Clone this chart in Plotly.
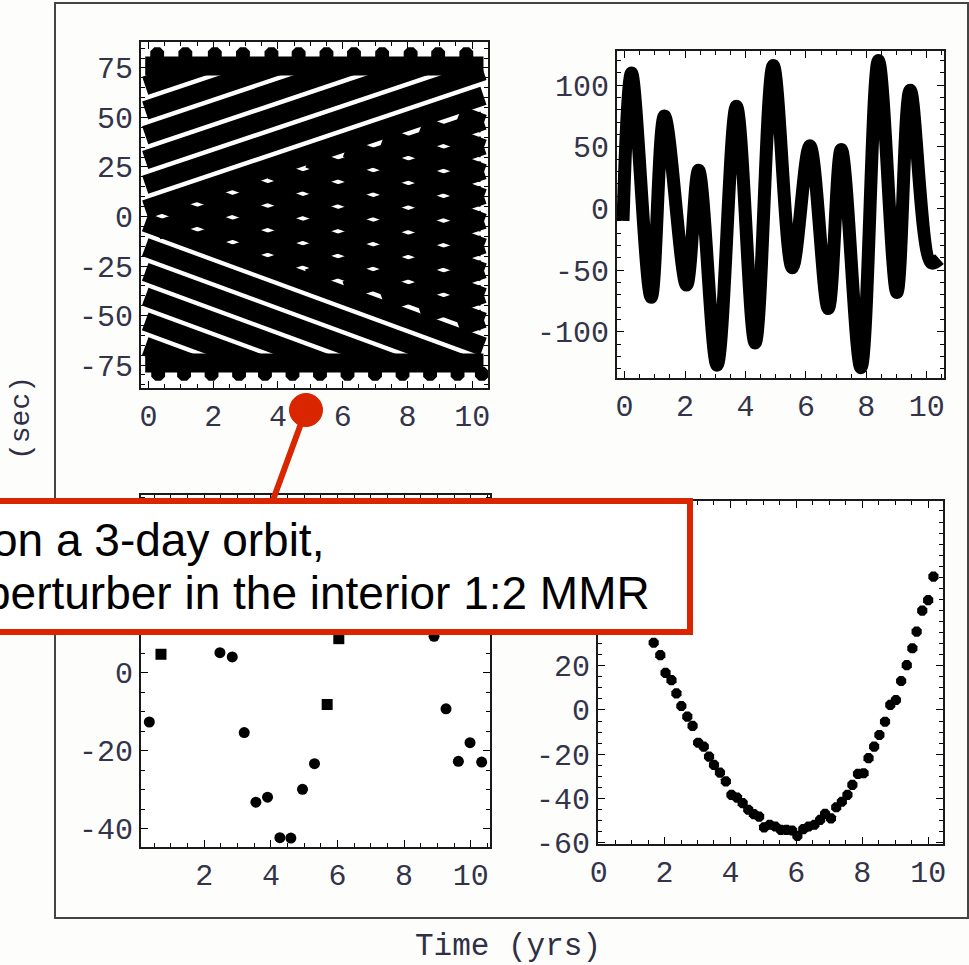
import plotly.graph_objects as go

W, H = 969, 965

# ---------------- data ----------------
# top-left panel: dense transit-timing points, drawn as stripes of overlapping points
tl_stripe_t0 = [-0.1, -0.1, -0.1, -0.1, -0.1, -0.1, 0.27, 1.44, 2.60, 3.76, 4.93, 6.09, 7.26, 8.42, 9.59,
                -0.1, -0.1, -0.1, -0.1, -0.1, -0.1, 0.32, 1.48, 2.64, 3.79, 4.95, 6.11, 7.27, 8.43, 9.59,
                -0.1, -0.1]
tl_stripe_v0 = [66, 53.5, 41, 28.5, 16, 3.5, -7.0, -13.1, -19.2, -25.2, -31.3, -37.4, -43.5, -49.6, -55.7,
                -65.5, -53, -40.5, -28, -15.5, -3, 7.0, 12.5, 18.1, 23.6, 29.2, 34.7, 40.3, 45.8, 51.4,
                76, -74]
tl_stripe_t1 = [1.72, 3.99, 6.26, 8.54, 10.35, 10.35, 10.35, 10.35, 10.35, 10.35, 10.35, 10.35, 10.35, 10.35, 10.35,
                1.32, 3.40, 5.48, 7.57, 9.65, 10.35, 10.35, 10.35, 10.35, 10.35, 10.35, 10.35, 10.35, 10.35, 10.35,
                10.35, 10.35]
tl_stripe_v1 = [76, 76, 76, 76, 73.5, 61.0, 48.5, 36.0, 23.5, 11.0, -1.5, -14.0, -26.5, -39.0, -51.5,
                -74, -74, -74, -74, -74, -65.7, -53.2, -40.7, -28.2, -15.7, -3.2, 9.3, 21.8, 34.3, 46.8,
                76, -74]
tl_top_t = [0.27, 1.14, 2.05, 2.92, 3.80, 4.64, 5.50, 6.35, 7.22, 8.10, 8.95, 9.82]
tl_top_v = [82] * len(tl_top_t)
tl_bot_t = [0.30, 1.10, 1.95, 2.80, 3.60, 4.45, 5.30, 6.15, 7.00, 7.85, 8.70, 9.55, 10.30]
tl_bot_v = [-79.5] * len(tl_bot_t)

# top-right panel
tr_t = [-0.05, 0.23, 0.88, 1.32, 2.05, 2.45, 3.06, 3.70, 4.32, 4.92, 5.55, 6.13, 6.74, 7.17, 7.82,
        8.40, 9.01, 9.45, 10.15, 10.42]
tr_v = [-10, 110, -72, 75, -62, 31, -127, 83, -109, 116, -48, 51, -81, 48, -129,
        120, -68, 96, -44, -41]

# bottom-left panel
bl_t = [0.35, 0.70, 2.47, 2.84, 3.20, 3.55, 3.90, 4.27, 4.60, 4.95, 5.31, 5.69, 6.04, 8.90, 9.26, 9.63, 9.98, 10.33]
bl_v = [-12.6, 4.8, 5.2, 4.1, -15.3, -33.2, -31.9, -42.3, -42.4, -29.9, -23.3, -8.1, 8.8, 9.4, -9.2, -22.7, -17.9, -22.9]
bl_sym = ["circle", "square", "circle", "circle", "circle", "circle", "circle", "circle", "circle",
          "circle", "circle", "square", "square", "circle", "circle", "circle", "circle", "circle"]

# bottom-right panel
br_t = [1.67, 1.87, 2.03, 2.21, 2.36, 2.51, 2.69, 2.85, 3.02, 3.19, 3.35, 3.50, 3.68, 3.86, 4.03, 4.20,
        4.37, 4.54, 4.71, 4.87, 5.02, 5.19, 5.36, 5.53, 5.70, 5.87, 6.03, 6.21, 6.37, 6.55, 6.72, 6.87,
        7.05, 7.21, 7.38, 7.55, 7.70, 7.87, 8.04, 8.19, 8.36, 8.52, 8.69, 8.85, 9.02, 9.18, 9.35, 9.52,
        9.65, 9.82, 10.00, 10.16]
br_v = [30.4, 24.8, 16.8, 13.5, 7.5, 1.8, -3.0, -7.2, -14.8, -16.6, -21.1, -24.8, -28.3, -32.3, -38.4, -39.6,
        -42.1, -45.1, -47.1, -48.2, -53.1, -51.9, -52.7, -54.2, -54.2, -54.5, -56.9, -53.9, -52.7, -51.9, -49.7, -47.0,
        -49.0, -44.0, -41.5, -38.4, -33.9, -28.9, -28.6, -21.8, -16.6, -11.3, -5.3, 2.3, 4.5, 13.1, 20.3, 27.9,
        35.4, 44.9, 49.7, 60.3]

# tick values that are visible (others sit under the callout box)
tl_yticks = [-75, -50, -25, 0, 25, 50, 75]
tl_ylabels = ["-75", "-50", "-25", "0", "25", "50", "75"]
tr_yticks = [-100, -50, 0, 50, 100]
tr_ylabels = ["-100", "-50", "0", "50", "100"]
bl_yticks = [-40, -20, 0]
bl_ylabels = ["-40", "-20", "0"]
br_yticks = [-60, -40, -20, 0, 20]
br_ylabels = ["-60", "-40", "-20", "0", "20"]
x_ticks = [0, 2, 4, 6, 8, 10]
x_labels = ["0", "2", "4", "6", "8", "10"]

x_label = "Time (yrs)"
y_label = "(sec)"
note_line1 = "on a 3-day orbit,"
note_line2 = "perturber in the interior 1:2 MMR"

# ---------------- helpers ----------------
def px(x):
    return x / W

def py(y):
    return 1 - y / H

RED = "#d92500"
TICKFONT = dict(family="Liberation Mono", size=30, color="#33334a")

fig = go.Figure()

# top-left stripes
sx, sy = [], []
for a, b, c, d in zip(tl_stripe_t0, tl_stripe_v0, tl_stripe_t1, tl_stripe_v1):
    sx += [a, c, None]
    sy += [b, d, None]
fig.add_trace(go.Scatter(x=sx, y=sy, mode="lines", line=dict(color="black", width=19),
                         xaxis="x", yaxis="y", showlegend=False, hoverinfo="skip"))
fig.add_trace(go.Scatter(x=tl_top_t + tl_bot_t, y=tl_top_v + tl_bot_v, mode="markers",
                         marker=dict(color="black", size=15, symbol="octagon"),
                         xaxis="x", yaxis="y", showlegend=False))

# top-right
fig.add_trace(go.Scatter(x=tr_t, y=tr_v, mode="lines",
                         line=dict(color="black", width=13, shape="spline", smoothing=1.0),
                         xaxis="x2", yaxis="y2", showlegend=False))

# bottom-left
fig.add_trace(go.Scatter(x=bl_t, y=bl_v, mode="markers",
                         marker=dict(color="black", size=11, symbol=bl_sym),
                         xaxis="x3", yaxis="y3", showlegend=False))

# bottom-right
fig.add_trace(go.Scatter(x=br_t, y=br_v, mode="markers",
                         marker=dict(color="black", size=11, symbol="octagon"),
                         xaxis="x4", yaxis="y4", showlegend=False))


def axis(domain_px, rng, tickvals, ticktext, minor, horizontal, anchor):
    if horizontal:
        dom = [px(domain_px[0]), px(domain_px[1])]
    else:
        dom = [py(domain_px[1]), py(domain_px[0])]
    return dict(domain=dom, range=rng, anchor=anchor, tickmode="array", tickvals=tickvals, ticktext=ticktext,
                showline=True, linecolor="#1a1a1a", linewidth=2, mirror="ticks",
                ticks="inside", ticklen=7, tickwidth=1, tickcolor="black",
                minor=dict(dtick=minor, tick0=0, ticks="inside", ticklen=4, tickwidth=1,
                           tickcolor="black", showgrid=False),
                showgrid=False, zeroline=False, tickfont=TICKFONT, fixedrange=True,
                automargin=False)


layout = dict(
    template="none",
    width=W, height=H, autosize=False,
    margin=dict(l=0, r=0, t=0, b=0, pad=0),
    paper_bgcolor="#fdfefc", plot_bgcolor="white",
    xaxis=axis([141, 488], [-0.23, 10.49], x_ticks, x_labels, 0.5, True, "y"),
    yaxis=axis([42, 388], [-86.6, 88.1], tl_yticks, tl_ylabels, 5, False, "x"),
    xaxis2=axis([617, 944], [-0.25, 10.57], x_ticks, x_labels, 0.5, True, "y2"),
    yaxis2=axis([51, 378], [-137.4, 127.8], tr_yticks, tr_ylabels, 10, False, "x2"),
    xaxis3=axis([141, 490], [0.1, 10.58], x_ticks, x_labels, 0.5, True, "y3"),
    yaxis3=axis([495, 847], [-44.7, 45.7], bl_yticks, bl_ylabels, 5, False, "x3"),
    xaxis4=axis([598, 943], [-0.02, 10.45], x_ticks, x_labels, 0.5, True, "y4"),
    yaxis4=axis([501, 844], [-60.6, 94.5], br_yticks, br_ylabels, 5, False, "x4"),
)
fig.update_layout(**layout)

shapes = [
    # outer frame
    dict(type="rect", xref="paper", yref="paper", x0=px(55), x1=px(968), y0=py(918), y1=py(3),
         line=dict(color="#444444", width=2), fillcolor="rgba(0,0,0,0)", layer="below"),
    # connector line
    dict(type="line", xref="paper", yref="paper", x0=px(306), y0=py(410), x1=px(273), y1=py(500),
         line=dict(color=RED, width=6), layer="above"),
    # callout box
    dict(type="rect", xref="paper", yref="paper", x0=px(-20), x1=px(690), y0=py(632), y1=py(501),
         line=dict(color=RED, width=6), fillcolor="white", layer="above"),
    # dot
    dict(type="circle", xref="paper", yref="paper", x0=px(289.5), x1=px(322.5), y0=py(426.5), y1=py(393.5),
         line=dict(color=RED, width=1), fillcolor=RED, layer="above"),
]
fig.update_layout(shapes=shapes)

ann = [
    dict(text=note_line1, xref="paper", yref="paper", x=px(-10), y=py(540), xanchor="left", yanchor="middle",
         showarrow=False, font=dict(family="Liberation Sans", size=46, color="black")),
    dict(text=note_line2, xref="paper", yref="paper", x=px(-17), y=py(593), xanchor="left", yanchor="middle",
         showarrow=False, font=dict(family="Liberation Sans", size=46, color="black")),
    dict(text=x_label, xref="paper", yref="paper", x=px(508), y=py(946), xanchor="center", yanchor="middle",
         showarrow=False, font=dict(family="Liberation Mono", size=31, color="#2f2f45")),
    dict(text=y_label, xref="paper", yref="paper", x=px(21), y=py(418), xanchor="center", yanchor="middle",
         textangle=-90, showarrow=False, font=dict(family="Liberation Mono", size=28, color="#2f2f45")),
]
fig.update_layout(annotations=ann)

fig.write_html("out.html")
